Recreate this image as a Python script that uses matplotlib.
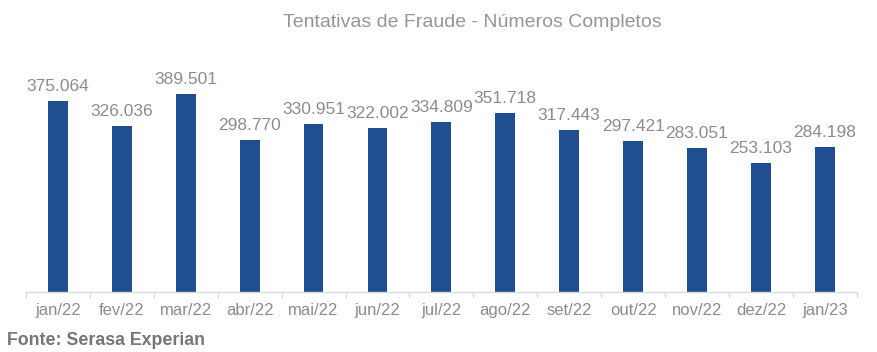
# -*- coding: utf-8 -*-
# Tentativas de fraude - numeros completos (Serasa Experian)

import numpy as np
import matplotlib.pyplot as plt
from matplotlib.ticker import FixedLocator

plt.rcParams['font.family'] = ['Liberation Sans', 'DejaVu Sans']

# %% podaci

meses = ['jan/22', 'fev/22', 'mar/22', 'abr/22', 'mai/22', 'jun/22', 'jul/22',
         'ago/22', 'set/22', 'out/22', 'nov/22', 'dez/22', 'jan/23']
tentativas = [375064, 326036, 389501, 298770, 330951, 322002, 334809,
              351718, 317443, 297421, 283051, 253103, 284198]

# %% grafik

BAR_COLOR = '#1f4e91'
TEXT_GREY = '#8c8c8c'
AXIS_GREY = '#d9d9d9'

fig = plt.figure(figsize=(8.77, 3.52), dpi=100)
ax = fig.add_axes([0.0296, 0.1705, 0.9474, 0.723])

x = np.arange(len(meses))
bars = ax.bar(x, tentativas, width=0.31, color=BAR_COLOR)

for xi, v in zip(x, tentativas):
    label = f'{v:,}'.replace(',', '.')
    ax.annotate(label, (xi, v), xytext=(0, 5), textcoords='offset points',
                ha='center', va='bottom', fontsize=12.5, color=TEXT_GREY)

ax.set_xlim(-0.5, len(meses) - 0.5)
ax.set_ylim(0, 500000)
ax.set_xticks(x)
ax.set_xticklabels(meses, fontsize=12, color=TEXT_GREY)
ax.tick_params(axis='x', which='major', length=0, pad=8)
ax.xaxis.set_minor_locator(FixedLocator(np.arange(-0.5, len(meses), 1.0)))
ax.tick_params(axis='x', which='minor', length=4, color=AXIS_GREY, width=1)
ax.set_yticks([])

for s in ['top', 'right', 'left']:
    ax.spines[s].set_visible(False)
ax.spines['bottom'].set_color(AXIS_GREY)
ax.spines['bottom'].set_linewidth(1)

fig.text(0.538, 0.937, 'Tentativas de Fraude - Números Completos',
         ha='center', va='center', fontsize=14, color='#959595')
fig.text(0.008, 0.033, 'Fonte: Serasa Experian', ha='left', va='center',
         fontsize=12.8, fontweight='bold', color='#767676')

plt.savefig('out.png', dpi=100)
